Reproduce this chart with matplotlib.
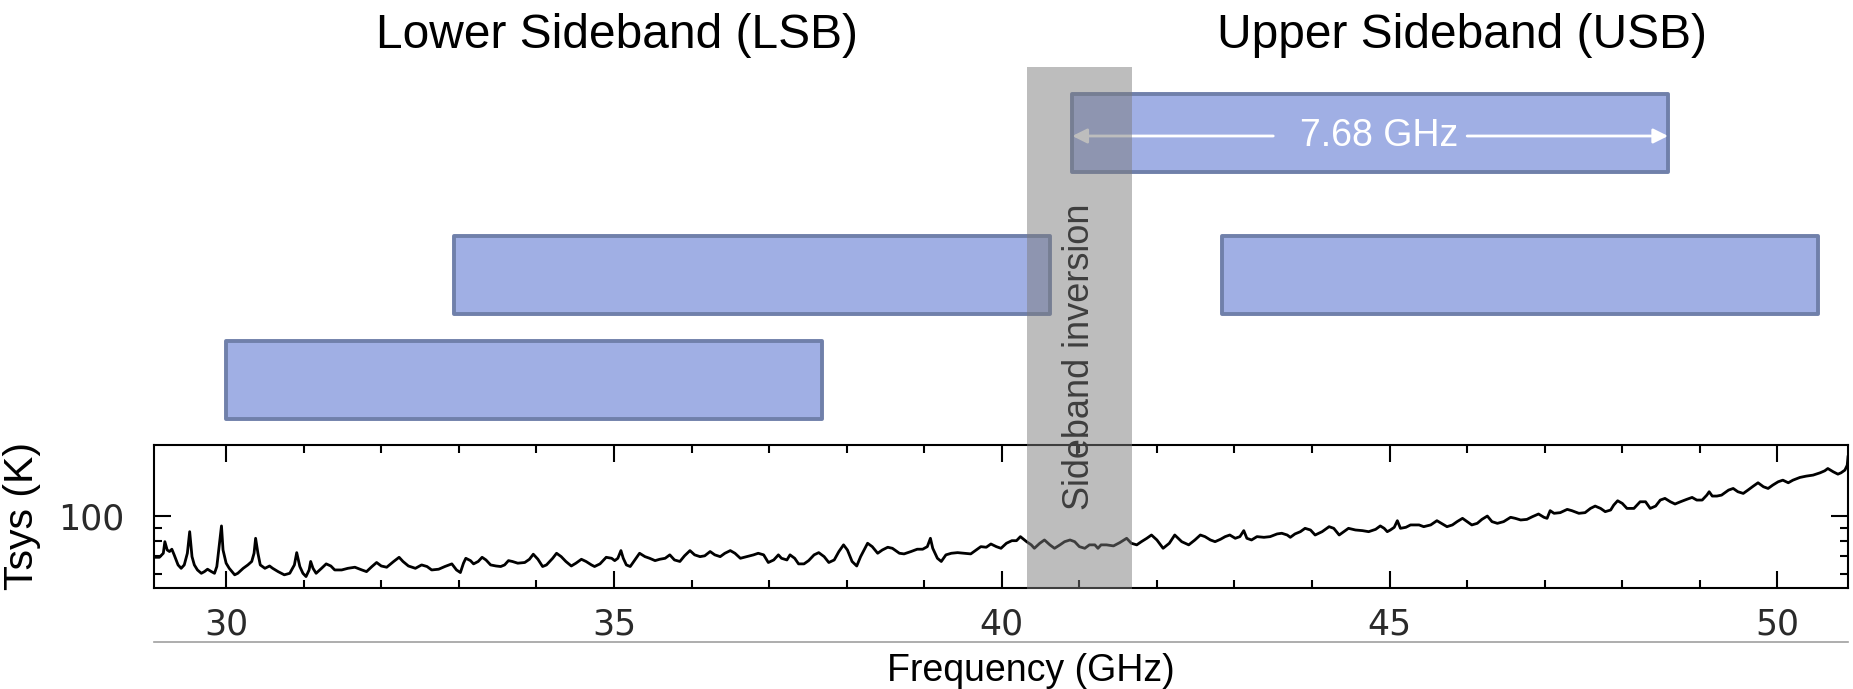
import matplotlib
matplotlib.use('Agg')
import matplotlib.pyplot as plt
from matplotlib.lines import Line2D
from matplotlib.ticker import FixedLocator, NullFormatter, FixedFormatter

# --- 1) Data ---
# receiver system temperature (log axis) vs frequency
freq_ghz = [
    29.07, 29.14, 29.19, 29.21, 29.24, 29.27, 29.30, 29.33, 29.38, 29.42,
    29.46, 29.50, 29.53, 29.56, 29.59, 29.63, 29.68, 29.72, 29.76, 29.81,
    29.85, 29.88, 29.91, 29.94, 29.96, 30.00, 30.04, 30.11, 30.15, 30.22,
    30.28, 30.33, 30.36, 30.38, 30.41, 30.44, 30.50, 30.56, 30.60, 30.67,
    30.75, 30.82, 30.88, 30.91, 30.95, 30.99, 31.03, 31.07, 31.09, 31.12,
    31.16, 31.23, 31.29, 31.35, 31.40, 31.49, 31.57, 31.66, 31.75, 31.81,
    31.88, 31.94, 32.00, 32.07, 32.16, 32.23, 32.28, 32.35, 32.44, 32.52,
    32.59, 32.65, 32.74, 32.82, 32.91, 32.97, 33.02, 33.06, 33.09, 33.15,
    33.19, 33.25,
    33.30, 33.35, 33.41, 33.48, 33.54, 33.59, 33.64, 33.69, 33.76, 33.85,
    33.91, 33.96, 34.02, 34.08, 34.13, 34.21, 34.26, 34.32, 34.38, 34.45,
    34.51, 34.58, 34.64, 34.71, 34.75, 34.82, 34.90, 34.97, 35.01, 35.05,
    35.09, 35.12, 35.16, 35.21, 35.27, 35.33, 35.40, 35.46, 35.53, 35.59,
    35.66, 35.72, 35.78, 35.85, 35.91, 35.98, 36.04, 36.11, 36.17, 36.24,
    36.30, 36.37, 36.43, 36.50, 36.56, 36.63, 36.71, 36.80, 36.86, 36.93,
    36.99, 37.06, 37.12, 37.16, 37.23, 37.27,
    37.33, 37.38, 37.45, 37.51, 37.58, 37.64, 37.71, 37.77, 37.84, 37.90,
    37.96, 38.01, 38.07, 38.13, 38.18, 38.27, 38.33, 38.40, 38.46, 38.53,
    38.59, 38.68, 38.74, 38.83, 38.91, 38.98, 39.04, 39.08, 39.11, 39.17,
    39.22, 39.28, 39.35, 39.43, 39.52, 39.60, 39.67, 39.73, 39.80, 39.86,
    39.93, 39.99, 40.06, 40.13, 40.19, 40.24, 40.32, 40.38, 40.42, 40.49,
    40.55, 40.62, 40.68, 40.75, 40.81, 40.88, 40.94, 41.00, 41.07, 41.13,
    41.20, 41.24, 41.28,
    41.35, 41.44, 41.52, 41.61, 41.67, 41.74, 41.80, 41.87, 41.93, 42.00,
    42.08, 42.16, 42.23, 42.32, 42.41, 42.49, 42.56, 42.62, 42.69, 42.75,
    42.82, 42.88, 42.94, 43.01, 43.07, 43.12, 43.16, 43.22, 43.29, 43.38,
    43.46, 43.55, 43.61, 43.68, 43.72, 43.78, 43.85, 43.91, 43.98, 44.04,
    44.13, 44.22, 44.28, 44.35, 44.41, 44.47, 44.56, 44.65, 44.73, 44.82,
    44.88, 44.93, 44.97, 45.01, 45.06, 45.10, 45.14, 45.21, 45.27,
    45.38, 45.44, 45.53, 45.61, 45.68, 45.74, 45.81, 45.87, 45.94, 46.00,
    46.06, 46.13, 46.19, 46.26, 46.32, 46.39, 46.47, 46.56, 46.62, 46.69,
    46.77, 46.84, 46.92, 46.99, 47.03, 47.07, 47.12, 47.20, 47.29, 47.35,
    47.44, 47.52, 47.59, 47.65, 47.72, 47.78, 47.85, 47.89, 47.94, 48.00,
    48.06, 48.15, 48.23, 48.30, 48.36, 48.43, 48.49, 48.55, 48.62, 48.68,
    48.75, 48.83, 48.90, 48.96, 49.03, 49.09, 49.12, 49.16, 49.22, 49.28,
    49.37, 49.43, 49.49, 49.56, 49.62, 49.69, 49.75, 49.82, 49.88, 49.94,
    50.01, 50.07, 50.14, 50.20, 50.29, 50.37, 50.46, 50.55, 50.61, 50.65,
    50.72, 50.78, 50.82, 50.87, 50.90, 50.91,
]
tsys_k = [
    69.4, 69.4, 71.9, 79.6, 74.0, 73.0, 74.5, 70.9, 64.9, 63.0,
    64.9, 71.9, 86.9, 69.8, 64.9, 62.1, 60.3, 61.2, 62.5, 61.2,
    60.3, 64.0, 76.2, 91.4, 74.0, 65.9, 63.0, 59.5, 60.3, 63.0,
    64.9, 66.9, 71.9, 82.0, 71.9, 64.9, 63.0, 64.3, 63.0, 61.2,
    59.5, 60.3, 64.9, 72.3, 64.0, 60.3, 58.6, 62.1, 66.9, 63.0,
    60.3, 63.0, 65.5, 64.3, 62.1, 62.1, 63.0, 63.6, 62.1, 61.2,
    64.0, 66.3, 64.3, 63.6, 66.9, 69.4, 66.9, 64.3, 63.0, 64.9,
    64.0, 62.1, 62.5, 64.0, 65.5, 62.1, 60.7, 65.9, 68.8, 67.4,
    65.5, 66.9,
    69.4, 67.8, 64.9, 64.3, 64.0, 64.9, 67.4, 66.9, 65.9, 66.3,
    68.2, 71.3, 68.2, 64.0, 64.9, 68.8, 71.9, 69.8, 66.9, 64.3,
    65.9, 68.2, 66.9, 64.9, 64.0, 65.5, 69.4, 68.8, 67.4, 68.8,
    73.6, 68.8, 64.9, 64.0, 67.8, 71.9, 69.8, 68.8, 67.4, 68.2,
    68.8, 70.9, 67.8, 66.9, 70.3, 73.6, 70.9, 69.8, 70.3, 73.0,
    70.9, 69.8, 71.9, 73.6, 71.9, 68.8, 69.8, 70.9, 71.9, 70.9,
    66.3, 67.8, 70.9, 68.8, 67.8, 70.9,
    68.8, 65.5, 65.5, 67.4, 70.9, 72.3, 69.8, 66.3, 67.8, 73.0,
    77.4, 74.0, 66.9, 64.3, 69.8, 78.5, 76.2, 71.9, 74.0, 75.8,
    75.1, 71.9, 71.5, 73.0, 74.5, 74.5, 76.2, 82.0, 75.1, 68.8,
    66.9, 70.9, 71.9, 72.3, 71.9, 71.5, 74.0, 76.2, 75.8, 78.0,
    76.2, 75.1, 78.5, 80.3, 80.3, 83.2, 79.6, 77.4, 75.1, 78.5,
    80.8, 77.4, 75.1, 77.4, 79.6, 80.8, 79.6, 76.2, 75.1, 77.4,
    77.4, 75.1, 77.4,
    77.4, 76.7, 78.9, 82.0, 78.5, 77.4, 79.6, 82.0, 84.4, 80.8,
    75.1, 78.5, 84.4, 79.6, 77.4, 80.8, 84.4, 83.2, 80.8, 79.6,
    81.3, 83.2, 84.4, 82.0, 83.2, 87.7, 82.0, 80.8, 83.2, 82.7,
    83.2, 85.2, 85.7, 84.4, 82.7, 85.2, 86.9, 89.5, 88.2, 84.4,
    86.9, 90.8, 89.5, 84.4, 86.9, 89.5, 88.2, 87.7, 86.9, 88.7,
    91.4, 89.5, 86.9, 88.2, 90.3, 95.7, 89.5, 90.3, 92.2,
    92.2, 90.8, 92.2, 95.7, 93.0, 90.8, 92.2, 94.9, 97.7, 94.9,
    92.2, 93.5, 96.8, 99.7, 94.9, 93.5, 94.9, 98.6, 97.7, 96.3,
    96.8, 99.1, 101.5, 98.6, 97.7, 104.5, 102.1, 102.7, 105.7, 104.5,
    102.1, 102.7, 106.6, 108.8, 106.6, 103.6, 105.1, 109.8, 114.0, 111.4,
    106.6, 106.6, 113.0, 113.0, 106.6, 108.8, 114.7, 116.4, 113.0, 110.8,
    113.0, 115.4, 117.4, 114.7, 114.7, 119.8, 123.4, 118.8, 118.8, 119.8,
    125.2, 127.0, 123.4, 121.6, 125.2, 129.7, 133.5, 128.9, 127.0, 130.8,
    134.7, 136.6, 133.5, 136.6, 139.9, 141.5, 142.8, 145.7, 148.3, 151.3,
    147.0, 144.0, 145.7, 149.2, 155.8, 167.6,
]

# IF bands (GHz): lower / upper sideband tunings, each 7.68 GHz wide
band_start = [30.00, 32.94, 40.91, 42.84]
band_row = [0, 1, 2, 1]
band_width = 7.68
band_label = '7.68 GHz'
inversion_lo, inversion_hi = 40.33, 41.68

x_major = [30, 35, 40, 45, 50]
y_major = [100]
y_minor = [60, 70, 80, 90]

# --- 2) Layout ---
W, H = 1853, 689
fig = plt.figure(figsize=(W / 100, H / 100), dpi=100)
plt.rcParams['font.family'] = ['Liberation Sans', 'DejaVu Sans']

ax_left, ax_right = 154 / W, 1848 / W
ax_bottom, ax_top = 1 - 588 / H, 1 - 445 / H
xlim = (29.07, 50.91)

# spectrum panel
ax = fig.add_axes([ax_left, ax_bottom, ax_right - ax_left, ax_top - ax_bottom])
ax.plot(freq_ghz, tsys_k, color='black', linewidth=2.0)
ax.set_yscale('log')
ax.set_xlim(*xlim)
ax.set_ylim(53, 186)

ax.xaxis.set_major_locator(FixedLocator(x_major))
ax.xaxis.set_minor_locator(FixedLocator(range(30, 51)))
ax.yaxis.set_major_locator(FixedLocator(y_major))
ax.yaxis.set_major_formatter(FixedFormatter([str(v) for v in y_major]))
ax.yaxis.set_minor_locator(FixedLocator(y_minor))
ax.yaxis.set_minor_formatter(NullFormatter())
ax.tick_params(which='both', direction='in', top=True, right=True,
               width=1.5, colors='black', labelcolor='#2a2a2a')
ax.tick_params(which='major', length=12)
ax.tick_params(which='minor', length=6)
ax.tick_params(axis='x', pad=14)
ax.tick_params(axis='y', pad=21)
for lab in ax.get_xticklabels() + ax.get_yticklabels():
    lab.set_family('DejaVu Sans')
    lab.set_fontsize(25)
for sp in ax.spines.values():
    sp.set_linewidth(1.5)

# axis titles placed as in the picture
fig.text(1031 / W, 1 - 671 / H, 'Frequency (GHz)', fontsize=27,
         ha='center', va='center')
fig.text(22 / W, 1 - 516 / H, 'Tsys (K)', fontsize=29.5, rotation=90,
         ha='center', va='center')

# thin grey rule under the tick labels
fig.add_artist(Line2D([ax_left, ax_right], [1 - 642 / H] * 2,
                      transform=fig.transFigure, color='#a0a0a0', linewidth=1.2))

# --- 3) Band diagram above the spectrum (same frequency axis) ---
band_bottom_px = 589
axb = fig.add_axes([ax_left, 1 - band_bottom_px / H, ax_right - ax_left,
                    band_bottom_px / H])
axb.set_xlim(*xlim)
axb.set_ylim(0, band_bottom_px)
axb.axis('off')

row_y = {0: 209, 1: 314, 2: 456}
bar_h = 78
for start, row in zip(band_start, band_row):
    bars = axb.barh(row_y[row], band_width, left=start, height=bar_h,
                    color='#a0afe4', edgecolor='#7080aa', linewidth=2.8, zorder=2)
    for p in bars:
        p.set_joinstyle('round')

# arrow + label in the top bar
top_start = band_start[band_row.index(2)]
top_mid = top_start + band_width / 2
arrow_y = row_y[2] - 3
gap = 1.25
for tip, tail in [(top_start, top_mid - gap), (top_start + band_width, top_mid + gap)]:
    axb.annotate('', xy=(tip, arrow_y), xytext=(tail, arrow_y),
                 arrowprops=dict(arrowstyle='-|>', color='white', lw=2,
                                 mutation_scale=22, shrinkA=0, shrinkB=0),
                 zorder=3)
axb.text(top_mid + 0.12, arrow_y, band_label, color='white', fontsize=27,
         ha='center', va='center', zorder=3)

# sideband inversion region (semi-transparent grey over everything)
axb.text((inversion_lo + inversion_hi) / 2, 589 - 357, 'Sideband inversion',
         rotation=90, ha='center', va='center', fontsize=26, color='black', zorder=4)
axb.axvspan(inversion_lo, inversion_hi, ymin=0, ymax=(589 - 67) / 589,
            color='#7d7d7d', alpha=0.5, linewidth=0, zorder=5)

# sideband titles
fig.text(617 / W, 1 - 35 / H, 'Lower Sideband (LSB)', fontsize=34.5,
         ha='center', va='center')
fig.text(1462 / W, 1 - 35 / H, 'Upper Sideband (USB)', fontsize=34.5,
         ha='center', va='center')

fig.savefig('out.png', dpi=100)
